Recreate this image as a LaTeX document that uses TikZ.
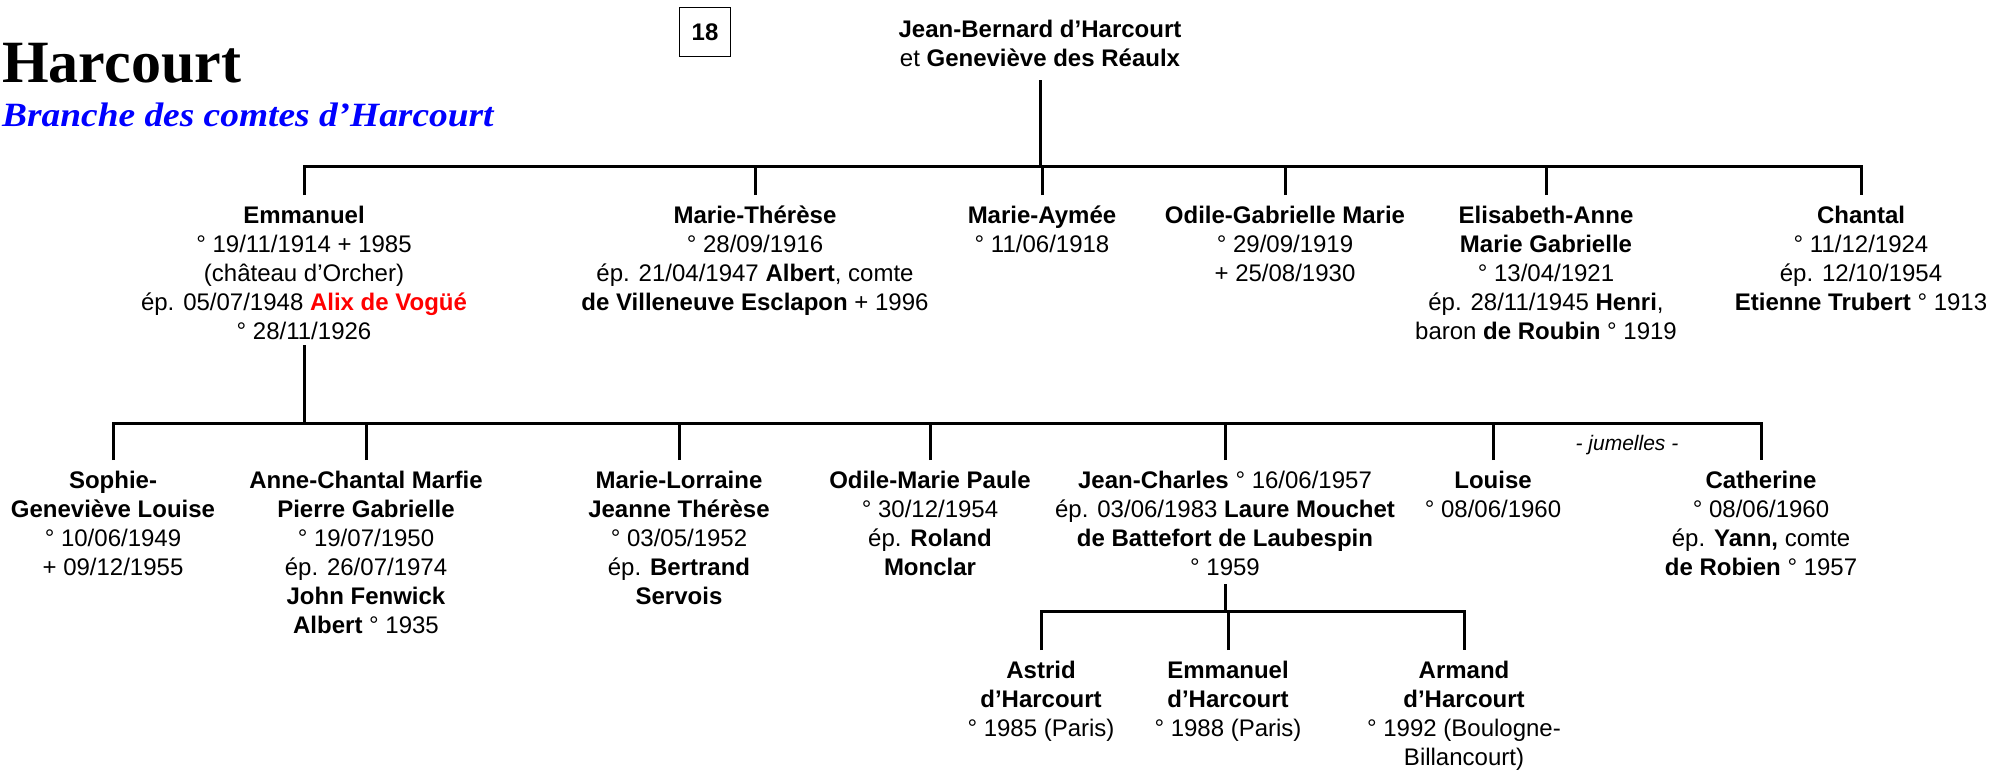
\documentclass[tikz,border=0pt]{standalone}
\usepackage{fontspec}
\setmainfont{Liberation Sans}
\newfontfamily\harcourtfont{Liberation Serif}
\newfontfamily\branchefont[FakeStretch=1.1]{Liberation Serif}
\usepackage{tikz}
\usetikzlibrary{calc}

\begin{document}
\begin{tikzpicture}[x=1pt,y=-1pt,
	pers/.style={align=center,anchor=north,inner sep=0pt,font=\fontsize{24}{29}\selectfont},
	trait/.style={line width=3pt},
	]
	\useasboundingbox (0,0) rectangle (2011,771);

	% titre
	\node[anchor=base west,inner sep=0pt,font=\harcourtfont\bfseries\fontsize{60}{60}\selectfont] (titre) at (2,82) {Harcourt};
	\node[anchor=base west,inner sep=0pt,text=blue,font=\branchefont\bfseries\itshape\fontsize{34}{34}\selectfont] (branche) at (2,126) {Branche des comtes d’Harcourt};
	\node[draw,line width=1.5pt,minimum width=51pt,minimum height=49pt,inner sep=0pt,font=\bfseries\fontsize{24}{29}\selectfont] (num) at (705,32) {18};

	% parents
	\node[pers] (racine) at (1040,20) {\textbf{Jean-Bernard d’Harcourt}\\et \textbf{Geneviève des Réaulx}};

	% enfants
	\node[pers] (emmanuel) at (304,206) {\textbf{Emmanuel}\\° 19/11/1914 + 1985\\(château d’Orcher)\\ép. 05/07/1948 \textcolor{red}{\textbf{Alix de Vogüé}}\\° 28/11/1926};
	\node[pers] (mtherese) at (755,206) {\textbf{Marie-Thérèse}\\° 28/09/1916\\ép. 21/04/1947 \textbf{Albert}, comte\\\textbf{de Villeneuve Esclapon} + 1996};
	\node[pers] (maymee) at (1042,206) {\textbf{Marie-Aymée}\\° 11/06/1918};
	\node[pers] (odileg) at (1285,206) {\textbf{Odile-Gabrielle Marie}\\° 29/09/1919\\+ 25/08/1930};
	\node[pers] (elisabeth) at (1546,206) {\textbf{Elisabeth-Anne}\\\textbf{Marie Gabrielle}\\° 13/04/1921\\ép. 28/11/1945 \textbf{Henri},\\baron \textbf{de Roubin} ° 1919};
	\node[pers] (chantal) at (1861,206) {\textbf{Chantal}\\° 11/12/1924\\ép. 12/10/1954\\\textbf{Etienne Trubert} ° 1913};

	% petits-enfants
	\node[pers] (sophie) at (113,471) {\textbf{Sophie-}\\\textbf{Geneviève Louise}\\° 10/06/1949\\+ 09/12/1955};
	\node[pers] (annech) at (366,471) {\textbf{Anne-Chantal Marfie}\\\textbf{Pierre Gabrielle}\\° 19/07/1950\\ép. 26/07/1974\\\textbf{John Fenwick}\\\textbf{Albert} ° 1935};
	\node[pers] (mlorraine) at (679,471) {\textbf{Marie-Lorraine}\\\textbf{Jeanne Thérèse}\\° 03/05/1952\\ép. \textbf{Bertrand}\\\textbf{Servois}};
	\node[pers] (odilem) at (930,471) {\textbf{Odile-Marie Paule}\\° 30/12/1954\\ép. \textbf{Roland}\\\textbf{Monclar}};
	\node[pers] (jeanch) at (1225,471) {\textbf{Jean-Charles} ° 16/06/1957\\ép. 03/06/1983 \textbf{Laure Mouchet}\\\textbf{de Battefort de Laubespin}\\° 1959};
	\node[pers] (louise) at (1493,471) {\textbf{Louise}\\° 08/06/1960};
	\node[pers] (catherine) at (1761,471) {\textbf{Catherine}\\° 08/06/1960\\ép. \textbf{Yann,} comte\\\textbf{de Robien} ° 1957};
	\node[anchor=base,inner sep=0pt,font=\itshape\fontsize{21}{21}\selectfont] (jumelles) at (1627,450) {- jumelles -};

	% arriere-petits-enfants
	\node[pers] (astrid) at (1041,661) {\textbf{Astrid}\\\textbf{d’Harcourt}\\° 1985 (Paris)};
	\node[pers] (emmanueljr) at (1228,661) {\textbf{Emmanuel}\\\textbf{d’Harcourt}\\° 1988 (Paris)};
	\node[pers] (armand) at (1464,661) {\textbf{Armand}\\\textbf{d’Harcourt}\\° 1992 (Boulogne-\\Billancourt)};

	% traits
	\coordinate (barre1) at (0,166);
	\coordinate (barre2) at (0,423);
	\coordinate (barre3) at (0,611);

	\draw[trait] (racine.south |- 0,80) -- (racine.south |- barre1);
	\draw[trait] ([yshift=11pt]emmanuel.north) |- (barre1 -| chantal.north) -- ([yshift=11pt]chantal.north);
	\draw[trait] ([yshift=11pt]mtherese.north) -- (mtherese.north |- barre1);
	\draw[trait] ([yshift=11pt]maymee.north) -- (maymee.north |- barre1);
	\draw[trait] ([yshift=11pt]odileg.north) -- (odileg.north |- barre1);
	\draw[trait] ([yshift=11pt]elisabeth.north) -- (elisabeth.north |- barre1);

	\draw[trait] (emmanuel.south |- 0,345) -- (emmanuel.south |- barre2);
	\draw[trait] ([yshift=11pt]sophie.north) |- (barre2 -| catherine.north) -- ([yshift=11pt]catherine.north);
	\draw[trait] ([yshift=11pt]annech.north) -- (annech.north |- barre2);
	\draw[trait] ([yshift=11pt]mlorraine.north) -- (mlorraine.north |- barre2);
	\draw[trait] ([yshift=11pt]odilem.north) -- (odilem.north |- barre2);
	\draw[trait] ([yshift=11pt]jeanch.north) -- (jeanch.north |- barre2);
	\draw[trait] ([yshift=11pt]louise.north) -- (louise.north |- barre2);

	\draw[trait] (jeanch.south |- 0,584) -- (jeanch.south |- barre3);
	\draw[trait] ([yshift=11pt]astrid.north) |- (barre3 -| armand.north) -- ([yshift=11pt]armand.north);
	\draw[trait] ([yshift=11pt]emmanueljr.north) -- (emmanueljr.north |- barre3);
\end{tikzpicture}
\end{document}
